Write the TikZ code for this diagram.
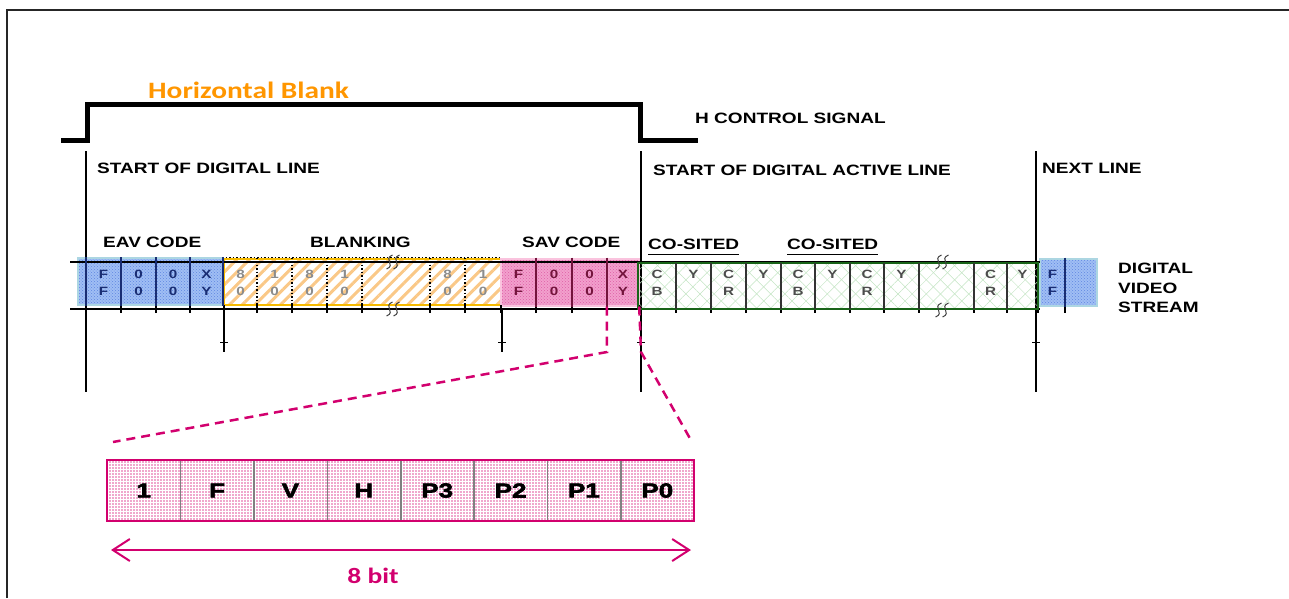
\documentclass[tikz,border=0pt]{standalone}
\usepackage{fontspec}
\setmainfont{Liberation Sans}[FakeStretch=1.27]
\newfontfamily\calfont{Carlito}[FakeStretch=1.25]
\newfontfamily\heavyfont{Liberation Sans}[UprightFont={* Bold}, FakeStretch=1.3, FakeBold=3]
\usepackage{tikz}
\usetikzlibrary{patterns,patterns.meta,arrows.meta}

\definecolor{eavfill}{RGB}{160,190,244}
\definecolor{eavdot}{RGB}{95,135,225}
\definecolor{eavline}{RGB}{172,214,226}
\definecolor{eavdiv}{RGB}{25,45,115}
\definecolor{blkline}{RGB}{246,186,0}
\definecolor{blkhatch}{RGB}{250,200,135}
\definecolor{savfill}{RGB}{242,160,205}
\definecolor{savdot}{RGB}{222,95,165}
\definecolor{savline}{RGB}{250,195,222}
\definecolor{savdiv}{RGB}{115,20,60}
\definecolor{actline}{RGB}{25,100,25}
\definecolor{actgrid}{RGB}{195,228,195}
\definecolor{zoomred}{RGB}{210,0,110}
\definecolor{bitfill}{RGB}{240,168,205}
\definecolor{hborange}{RGB}{255,150,0}

\begin{document}
\begin{tikzpicture}[
    x=1pt, y=-1pt,
    lbl/.style={anchor=base west, inner sep=0, font=\bfseries\fontsize{15}{18}\selectfont},
    cell/.style={inner sep=0, minimum height=30, align=center, font=\bfseries\fontsize{12}{17}\selectfont},
    eavbox/.style={draw=eavline, line width=2pt, minimum height=47, inner sep=0, preaction={fill=eavfill}, pattern=crosshatch dots, pattern color=eavdot},
    blkbox/.style={draw=blkline, line width=2.5pt, minimum height=46, inner sep=0, pattern={Lines[angle=45,distance=9pt,line width=3pt]}, pattern color=blkhatch},
    savbox/.style={draw=savline, line width=2pt, minimum height=47, inner sep=0, preaction={fill=savfill}, pattern=crosshatch dots, pattern color=savdot},
    actbox/.style={draw=actline, line width=2.5pt, minimum height=46, inner sep=0, preaction={pattern={Lines[angle=-45,distance=10pt,line width=.5pt]}, pattern color=actgrid}, pattern={Lines[angle=45,distance=10pt,line width=.5pt]}, pattern color=actgrid},
    bitbox/.style={draw=zoomred, line width=2pt, minimum width=587, minimum height=61, inner sep=0, preaction={fill=bitfill}, pattern=grid, pattern color=white},
    bitcell/.style={minimum width=73.4, minimum height=61, inner sep=0, font=\heavyfont\fontsize{20}{22}\selectfont},
    div/.style={line width=1.6pt},
    axis/.style={draw, line width=1.6pt},
    marker/.style={draw, line width=1.5pt},
    brk/.style={draw=black!75, line width=1pt},
    signal/.style={draw, line width=5pt, line join=miter},
    zoomline/.style={draw=zoomred, line width=2.5pt, dash pattern=on 9pt off 6pt},
    bitarrow/.style={draw=zoomred, line width=2pt, {Straight Barb[length=17pt,width=22pt]}-{Straight Barb[length=17pt,width=22pt]}}
]
    \useasboundingbox (0,0) rectangle (1289,598);

    % frame and H control signal
    \draw[line width=2pt, black!85] (7,598) -- (7,10) -- (1289,10);
    \draw[signal] (61,140) -- (87,140) -- (87,104) -- (640,104) -- (640,140) -- (698,140);
    \node[anchor=base west, inner sep=0, text=hborange, font=\calfont\bfseries\fontsize{23.5}{26}\selectfont] (hb_lbl) at (148,98) {Horizontal Blank};
    \node[lbl] (hctl_lbl) at (695,123) {H CONTROL SIGNAL};

    \draw[marker] (86,151) -- (86,392);
    \draw[marker] (641,151) -- (641,392);
    \draw[marker] (1036,151) -- (1036,392);
    \node[lbl] (start_lbl) at (97,173) {START OF DIGITAL LINE};
    \node[lbl] (active_lbl) at (653,175) {START OF DIGITAL ACTIVE LINE};
    \node[lbl] (next_lbl) at (1042,173) {NEXT LINE};

    \node[lbl] (eav_lbl) at (103,247) {EAV CODE};
    \node[lbl] (blk_lbl) at (310,247) {BLANKING};
    \node[lbl] (sav_lbl) at (522,247) {SAV CODE};
    \node[lbl] (cos_lbl1) at (648,249) {CO-SITED};
    \node[lbl] (cos_lbl2) at (787,249) {CO-SITED};
    \draw[line width=1.5pt] ([yshift=-5pt]cos_lbl1.south west) -- ([yshift=-5pt]cos_lbl1.south east);
    \draw[line width=1.5pt] ([yshift=-5pt]cos_lbl2.south west) -- ([yshift=-5pt]cos_lbl2.south east);

    % stream boxes
    \node[eavbox, minimum width=145] (eav) at (150.5,281.5) {};
    \node[blkbox, minimum width=277] (blk) at (362.5,282) {};
    \node[savbox, minimum width=138] (sav) at (570,282) {};
    \node[eavbox, minimum width=57] (nxt) at (1068.5,282) {};

    \draw[axis] (70,262) -- (1040,262);
    \draw[axis] (70,309) -- (1040,309);
    \foreach \tx in {86,121,156,190,224,257,292,327,362,430,465,501,536,572,607,640,676,711,746,781,815,850,884,919,974,1007,1038,1065}
        \draw[line width=2.5pt] (\tx,305) -- (\tx,313);
    \draw[marker] (224,309) -- (224,352);
    \draw[marker] (502,309) -- (502,352);
    \foreach \tx in {224,502,641,1036}
        \draw[line width=1pt] (\tx-4,342) -- (\tx+4,342);

    \node[actbox, minimum width=400] (act) at (838,286) {};

    % EAV cells
    \node[cell, text=eavdiv, minimum width=35] (eav_c1) at (103.5,283) {F\\F};
    \node[cell, text=eavdiv, minimum width=35] (eav_c2) at (138.5,283) {0\\0};
    \node[cell, text=eavdiv, minimum width=34] (eav_c3) at (173,283) {0\\0};
    \node[cell, text=eavdiv, minimum width=33] (eav_c4) at (206.5,283) {X\\Y};
    \draw[div, eavdiv] (eav_c1.west |- eav.north) -- (eav_c1.west |- eav.south);
    \foreach \c in {eav_c1,eav_c2,eav_c3,eav_c4}
        \draw[div, eavdiv] (\c.east |- eav.north) -- (\c.east |- eav.south);

    % blanking cells
    \node[cell, text=black!45, minimum width=33] (blk_c1) at (240.5,283) {8\\0};
    \node[cell, text=black!45, minimum width=35] (blk_c2) at (274.5,283) {1\\0};
    \node[cell, text=black!45, minimum width=35] (blk_c3) at (309.5,283) {8\\0};
    \node[cell, text=black!45, minimum width=35] (blk_c4) at (344.5,283) {1\\0};
    \node[cell, text=black!45, minimum width=35] (blk_c5) at (447.5,283) {8\\0};
    \node[cell, text=black!45, minimum width=36] (blk_c6) at (483,283) {1\\0};
    \foreach \c in {blk_c1,blk_c2,blk_c3,blk_c4,blk_c5}
        \draw[line width=1.5pt, dotted] (\c.east |- blk.north) -- (\c.east |- blk.south);
    \draw[line width=1.5pt, dotted] (blk_c5.west |- blk.north) -- (blk_c5.west |- blk.south);
    \draw[line width=1.5pt, dotted] ([xshift=3pt]blk.north west) -- ([xshift=-3pt]blk.north east);

    % SAV cells
    \node[cell, text=savdiv, minimum width=35] (sav_c1) at (518.5,283) {F\\F};
    \node[cell, text=savdiv, minimum width=36] (sav_c2) at (554,283) {0\\0};
    \node[cell, text=savdiv, minimum width=35] (sav_c3) at (589.5,283) {0\\0};
    \node[cell, text=savdiv, minimum width=32] (sav_c4) at (623,283) {X\\Y};
    \foreach \c in {sav_c1,sav_c2,sav_c3}
        \draw[div, savdiv] (\c.east |- sav.north) -- (\c.east |- sav.south);

    % active video cells
    \node[cell, text=black!70, minimum width=38] (act_c1) at (657,283) {C\\B};
    \node[cell, text=black!70, minimum width=35] (act_c2) at (693.5,283) {Y\\\phantom{Y}};
    \node[cell, text=black!70, minimum width=35] (act_c3) at (728.5,283) {C\\R};
    \node[cell, text=black!70, minimum width=35] (act_c4) at (763.5,283) {Y\\\phantom{Y}};
    \node[cell, text=black!70, minimum width=34] (act_c5) at (798,283) {C\\B};
    \node[cell, text=black!70, minimum width=35] (act_c6) at (832.5,283) {Y\\\phantom{Y}};
    \node[cell, text=black!70, minimum width=34] (act_c7) at (867,283) {C\\R};
    \node[cell, text=black!70, minimum width=35] (act_c8) at (901.5,283) {Y\\\phantom{Y}};
    \node[cell, text=black!70, minimum width=33] (act_c9) at (990.5,283) {C\\R};
    \node[cell, text=black!70, minimum width=31] (act_c10) at (1022.5,283) {Y\\\phantom{Y}};
    \foreach \c in {act_c1,act_c2,act_c3,act_c4,act_c5,act_c6,act_c7,act_c8,act_c9}
        \draw[div, black!80] (\c.east |- act.north) -- (\c.east |- act.south);
    \draw[div, black!80] (act_c9.west |- act.north) -- (act_c9.west |- act.south);

    % next line
    \node[cell, text=eavdiv, minimum width=25] (nxt_c1) at (1052.5,283) {F\\F};
    \draw[line width=2pt, eavdiv] (nxt_c1.east |- nxt.north) -- (nxt_c1.east |- nxt.south);

    \node[lbl] (dvs_lbl1) at (1118,273) {DIGITAL};
    \node[lbl] (dvs_lbl2) at (1118,293) {VIDEO};
    \node[lbl] (dvs_lbl3) at (1118,312) {STREAM};

    % break marks
    \foreach \bx/\by in {393/262, 393/309, 942/262, 942/310}
        \foreach \dx in {-3.5,3.5}
            \draw[brk] (\bx+\dx+3,\by-7) .. controls (\bx+\dx-7,\by-3) and (\bx+\dx+7,\by+3) .. (\bx+\dx-3,\by+7);

    % zoom of the XY word
    \coordinate (zm_l1) at (607,352);
    \coordinate (zm_l2) at (113,442);
    \coordinate (zm_r1) at (641,352);
    \coordinate (zm_r2) at (692,442);
    \draw[zoomline] (sav_c4.west |- sav.south) -- (zm_l1) -- (zm_l2);
    \draw[zoomline] (sav_c4.east |- sav.south) -- (zm_r1) -- (zm_r2);

    \node[bitbox] (bit) at (400.5,490.5) {};
    \node[bitcell] (bit_c1) at (143.7,490.5) {1};
    \node[bitcell] (bit_c2) at (217.1,490.5) {F};
    \node[bitcell] (bit_c3) at (290.4,490.5) {V};
    \node[bitcell] (bit_c4) at (363.8,490.5) {H};
    \node[bitcell] (bit_c5) at (437.2,490.5) {P3};
    \node[bitcell] (bit_c6) at (510.6,490.5) {P2};
    \node[bitcell] (bit_c7) at (583.9,490.5) {P1};
    \node[bitcell] (bit_c8) at (657.3,490.5) {P0};
    \foreach \c in {bit_c1,bit_c2,bit_c3,bit_c4,bit_c5,bit_c6,bit_c7}
        \draw[div, black!50] ([yshift=-1pt]\c.north east) -- ([yshift=1pt]\c.south east);

    \coordinate (bits_l) at (111,550);
    \coordinate (bits_r) at (691,550);
    \draw[bitarrow] (bits_l) -- (bits_r);
    \node[anchor=base, inner sep=0, text=zoomred, font=\calfont\bfseries\fontsize{22}{24}\selectfont] (bits_lbl) at (373,583) {8 bit};

\end{tikzpicture}
\end{document}
